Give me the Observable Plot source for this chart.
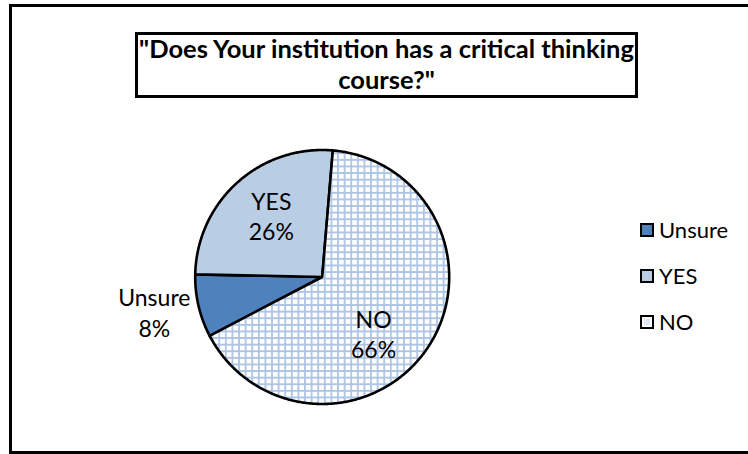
<!DOCTYPE html>
<html><head><meta charset="utf-8">
<script src="https://cdn.jsdelivr.net/npm/d3@7"></script>
<script src="https://cdn.jsdelivr.net/npm/@observablehq/plot@0.6"></script>
<style>
html,body{margin:0;padding:0;background:#fff;}
#wrap{position:relative;width:748px;height:454px;overflow:hidden;font-family:Lato,"Open Sans",sans-serif;}
#chart{position:absolute;left:0;top:0;}
#frame{position:absolute;left:9px;top:4px;width:780px;height:450px;border:3px solid #000;box-sizing:border-box;pointer-events:none;}
#title{position:absolute;left:135px;top:32px;width:503px;height:66px;border:3px solid #000;box-sizing:border-box;background:#fff;
  text-align:center;font-weight:bold;font-size:25.5px;line-height:31px;color:#000;letter-spacing:0px;white-space:nowrap;}
#title span{position:relative;top:-2px;}
.leg{position:absolute;left:640px;font-size:22px;line-height:24px;color:#000;display:flex;align-items:center;}
.sw{width:10px;height:10px;border:2.5px solid #000;margin-right:5px;}
</style>
</head><body>
<div id="wrap">
  <div id="chart"></div>
  <div id="frame"></div>
  <div id="title"><span>"Does Your institution has a critical thinking<br>course?"</span></div>
  <div id="legend"></div>
</div>
<script>
// ---- data ----
const categories = ["Unsure", "YES", "NO"];
const percents = [8, 26, 66];
const fills = ["#4F81BD", "#B9CDE5", "url(#grid)"];

// ---- geometry config ----
const W = 748, H = 454;
const cx = 321.7, cy = 276.5, R = 127;
const startDeg = 242.4;
const labelCfg = {Unsure: {r: 1.35, da: 1.5}, YES: {r: 0.63, da: 2.5}, NO: {r: 0.6, da: 14}};

const rows = categories.map((c, i) => ({key: c, value: percents[i], fill: fills[i]}));
const rad = d => d * Math.PI / 180;
const arcs = d3.pie().sort(null).value(d => d.value)
  .startAngle(rad(startDeg)).endAngle(rad(startDeg + 360))(rows);

const pts = [];
const labels = [];
for (const a of arcs) {
  const k = a.data.key;
  pts.push({key: k, fill: a.data.fill, x: 0, y: 0});
  const n = Math.max(2, Math.ceil((a.endAngle - a.startAngle) / rad(0.5)));
  for (let j = 0; j <= n; j++) {
    const t = a.startAngle + (a.endAngle - a.startAngle) * j / n;
    pts.push({key: k, fill: a.data.fill, x: Math.sin(t), y: Math.cos(t)});
  }
  pts.push({key: k, fill: a.data.fill, x: 0, y: 0});
  const cfg = labelCfg[k];
  const m = (a.startAngle + a.endAngle) / 2 + rad(cfg.da);
  labels.push({x: cfg.r * Math.sin(m), y: cfg.r * Math.cos(m), text: `${k}\n${a.data.value}%`});
}

const plot = Plot.plot({
  width: W, height: H,
  margin: 0,
  x: {domain: [-1, 1], range: [cx - R, cx + R], axis: null},
  y: {domain: [-1, 1], range: [cy + R, cy - R], axis: null},
  color: {type: "identity"},
  style: {fontFamily: "Lato, 'Open Sans', sans-serif", background: "#fff", overflow: "visible"},
  marks: [
    Plot.line(pts, {x: "x", y: "y", z: "key", fill: "fill", stroke: "#000", strokeWidth: 2.6, strokeLinejoin: "round", curve: "linear"}),
    Plot.text(labels, {x: "x", y: "y", text: "text", fontSize: 23, lineHeight: 1.32, fill: "#000", lineAnchor: "middle"})
  ]
});

// pattern for NO slice
const ns = "http://www.w3.org/2000/svg";
const defs = document.createElementNS(ns, "defs");
defs.innerHTML = `<pattern id="grid" width="6.6" height="6.6" patternUnits="userSpaceOnUse">
  <rect width="6.6" height="6.6" fill="#ffffff"/>
  <path d="M0 0.9H6.6M0.9 0V6.6" stroke="#AEC4E4" stroke-width="1.8"/></pattern>`;
plot.insertBefore(defs, plot.firstChild);
document.getElementById("chart").appendChild(plot);

// legend
const legend = document.getElementById("legend");
const legY = [230, 276, 322];
categories.forEach((c, i) => {
  const d = document.createElement("div");
  d.className = "leg";
  d.style.top = (legY[i] - 12) + "px";
  const s = document.createElement("div");
  s.className = "sw";
  s.style.background = fills[i].startsWith("url") ? "#f2f6fb" : fills[i];
  if (fills[i].startsWith("url")) s.style.boxShadow = "inset 0 0 0 2px #fff, inset 0 0 0 5px #dfe8f4";
  d.appendChild(s);
  d.appendChild(document.createTextNode(c));
  legend.appendChild(d);
});
</script>
</body></html>
